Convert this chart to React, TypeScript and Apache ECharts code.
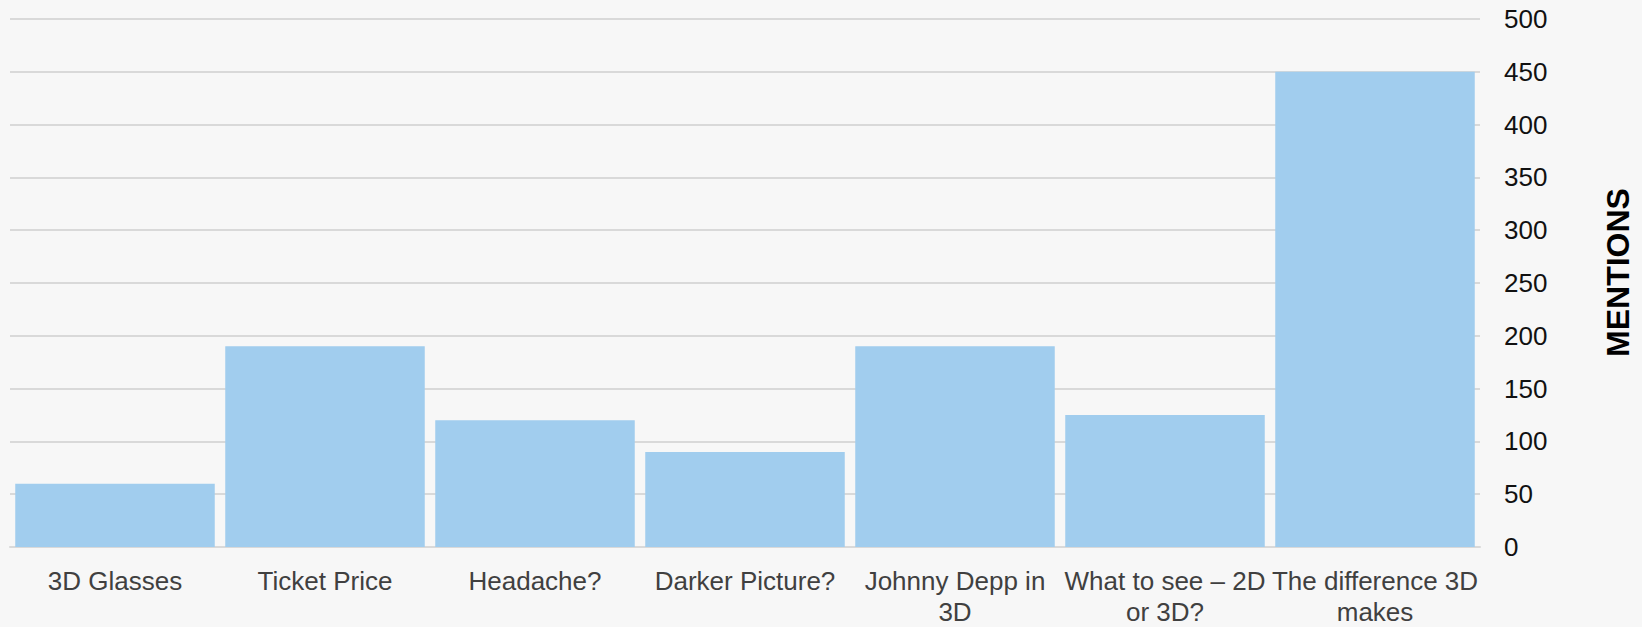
import React, { useEffect, useRef } from "react";
import * as echarts from "echarts";

const categories = [
  "3D Glasses",
  "Ticket Price",
  "Headache?",
  "Darker Picture?",
  "Johnny Depp in\n3D",
  "What to see – 2D\nor 3D?",
  "The difference 3D\nmakes",
];
const mentions = [60, 190, 120, 90, 190, 125, 450];
const yTicks = { min: 0, max: 500, interval: 50 };
const axisName = "MENTIONS";

export default function App() {
  const ref = useRef<HTMLDivElement>(null);
  useEffect(() => {
    if (!ref.current) return;
    const chart = echarts.init(ref.current, null, { renderer: "svg" });
    chart.setOption({
      animation: false,
      backgroundColor: "#f7f7f7",
      grid: { left: 10, right: 159, top: 19, bottom: 80 },
      xAxis: {
        type: "category",
        data: categories,
        axisTick: { show: false },
        axisLine: { lineStyle: { color: "#d9d9d9", width: 2 } },
        axisLabel: {
          interval: 0,
          color: "#404040",
          fontFamily: "Liberation Sans, Arial, sans-serif",
          fontSize: 26,
          lineHeight: 31,
          margin: 18,
        },
      },
      yAxis: {
        type: "value",
        position: "right",
        min: yTicks.min,
        max: yTicks.max,
        interval: yTicks.interval,
        name: axisName,
        nameLocation: "middle",
        nameRotate: 90,
        nameGap: 122,
        nameTextStyle: {
          color: "#000",
          fontFamily: "Liberation Sans, Arial, sans-serif",
          fontWeight: "bold",
          fontSize: 32,
          padding: [0, 0, 0, 21],
        },
        axisLine: { show: false },
        axisTick: { show: false },
        splitLine: { lineStyle: { color: "#d9d9d9", width: 2 } },
        axisLabel: {
          color: "#111",
          fontFamily: "Liberation Sans, Arial, sans-serif",
          fontSize: 26,
          margin: 24,
          align: "left",
        },
      },
      series: [
        {
          type: "bar",
          data: mentions,
          barCategoryGap: "5%",
          itemStyle: { color: "#a1cdee" },
        },
      ],
    });
    return () => chart.dispose();
  }, []);
  return <div ref={ref} style={{ width: 1642, height: 627, position: "absolute", left: 0, top: 0 }} />;
}
